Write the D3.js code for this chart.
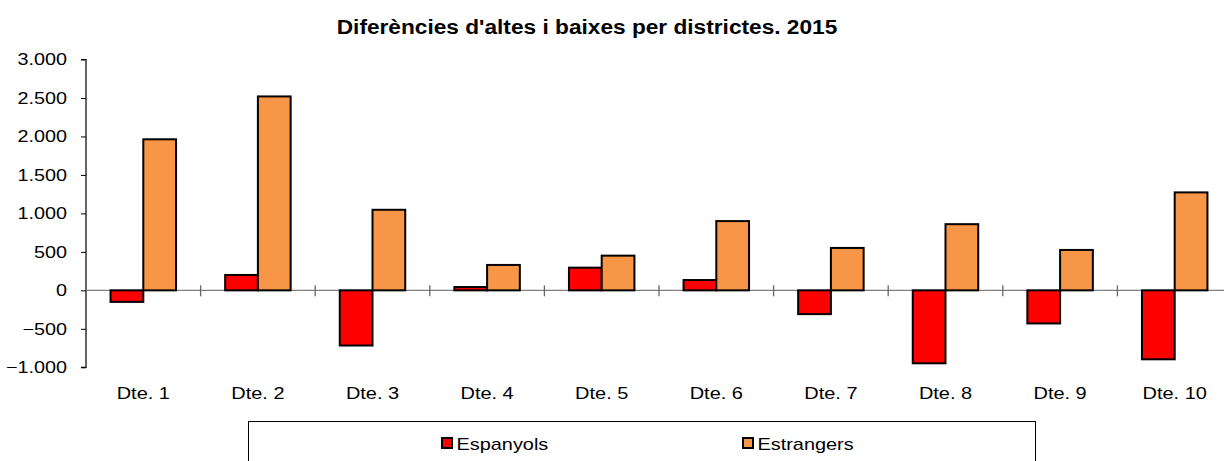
<!DOCTYPE html>
<html><head><meta charset="utf-8">
<script src="https://cdn.jsdelivr.net/npm/d3@7"></script>
<style>body{margin:0;background:#fff}svg{display:block;font-family:"Liberation Sans",Arial,sans-serif}</style>
</head><body>
<svg id="c" width="1224" height="461"></svg>
<script>
const categories = ["Dte. 1","Dte. 2","Dte. 3","Dte. 4","Dte. 5","Dte. 6","Dte. 7","Dte. 8","Dte. 9","Dte. 10"];
const seriesNames = ["Espanyols","Estrangers"];
const espanyols = [-150, 200, -717, 43, 295, 134, -309, -948, -430, -896];
const estrangers = [1963, 2520, 1047, 330, 451, 900, 551, 860, 525, 1273];
const yTicks = [-1000,-500,0,500,1000,1500,2000,2500,3000];
const colors = ["#FF0000","#F79646"];
const title = "Diferències d'altes i baixes per districtes. 2015";

const svg = d3.select("#c");
const x0 = 86, x1 = 1232, yTop = 59.5, yBot = 367.3;
const y = d3.scaleLinear().domain([-1000,3000]).range([yBot,yTop]);
const xb = d3.scaleBand().domain(categories).range([x0,x1]).paddingInner(0).paddingOuter(0);
const bw = xb.bandwidth();
const barW = bw/3.5;
const xs = d3.scaleBand().domain(seriesNames).range([(bw-2*barW)/2,(bw+2*barW)/2]);
const fmt = v => d3.format(",")(v).replace(/,/g,".");

function stext(parent, x, yy, sx, size, str, anchor, bold){
  return parent.append("text").attr("transform",`translate(${x},${yy}) scale(${sx},1)`)
    .attr("text-anchor",anchor||"start").attr("font-size",size)
    .attr("font-weight",bold?"bold":null).text(str);
}

stext(svg, 587, 34, 1.106, 20.5, title, "middle", true);

// y axis
const ya = svg.append("g").attr("transform",`translate(${x0},0)`)
  .call(d3.axisLeft(y).tickValues(yTicks).tickSize(5).tickFormat(fmt));
ya.select(".domain").attr("stroke","#000").attr("stroke-width",1.2).attr("d",`M-5,${y(-1000)}H0V${y(3000)}H-5`);
ya.selectAll(".tick line").attr("stroke","#000");
ya.selectAll(".tick text").attr("font-size",16.5).attr("fill","#000")
  .attr("font-family","Liberation Sans, Arial, sans-serif")
  .attr("x",-19/1.2).attr("transform","scale(1.2,1)");

// zero line
svg.append("line").attr("x1",x0).attr("x2",1224).attr("y1",y(0)).attr("y2",y(0)).attr("stroke","#808080").attr("stroke-width",1.3);
// category ticks
svg.append("g").selectAll("line").data(categories.slice(1)).join("line")
  .attr("x1",d=>xb(d)).attr("x2",d=>xb(d)).attr("y1",y(0)-5).attr("y2",y(0)+6)
  .attr("stroke","#666").attr("stroke-width",1.3);

const data = [espanyols, estrangers];
seriesNames.forEach((s,i)=>{
  svg.append("g").selectAll("rect").data(categories).join("rect")
    .attr("x",(c)=>xb(c)+xs(s))
    .attr("width",xs.bandwidth())
    .attr("y",(c,j)=>y(Math.max(0,data[i][j])))
    .attr("height",(c,j)=>Math.abs(y(data[i][j])-y(0)))
    .attr("fill",colors[i]).attr("stroke","#000").attr("stroke-width",2);
});

const cg = svg.append("g");
categories.forEach(c=>stext(cg, xb(c)+bw/2, 398.5, 1.21, 16.5, c, "middle"));

// legend
svg.append("rect").attr("x",248.5).attr("y",421.5).attr("width",787).attr("height",60)
  .attr("fill","none").attr("stroke","#000").attr("stroke-width",1);
const legX = [442, 743];
seriesNames.forEach((s,i)=>{
  svg.append("rect").attr("x",legX[i]).attr("y",438).attr("width",10).attr("height",10)
    .attr("fill",colors[i]).attr("stroke","#000").attr("stroke-width",2);
  stext(svg, legX[i]+14.5, 450, 1.17, 17, s, "start");
});
</script>
</body></html>
